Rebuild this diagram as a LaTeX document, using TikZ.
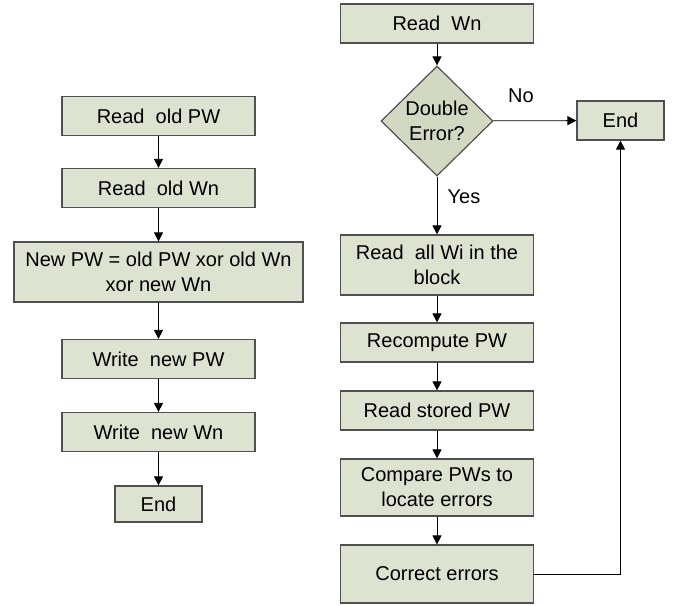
\documentclass[tikz,border=0pt]{standalone}
\usepackage{fontspec}
\setmainfont{Liberation Sans}
\usetikzlibrary{shapes.geometric,arrows.meta}
\definecolor{boxfill}{HTML}{DEE2D0}
\definecolor{diafill}{HTML}{D3D8C3}
\definecolor{boxline}{HTML}{505050}
\begin{document}
\begin{tikzpicture}[x=1pt,y=-1pt,
  box/.style={draw=boxline,line width=1.2pt,fill=boxfill,minimum width=193pt,minimum height=39pt,align=center,inner sep=2pt,font=\fontsize{20}{25}\selectfont},
  dia/.style={draw=boxline,line width=1.2pt,fill=diafill,diamond,minimum width=112pt,minimum height=110pt,align=center,inner sep=0pt,font=\fontsize{20}{25}\selectfont},
  arr/.style={draw=black,line width=0.8pt,-{Triangle[length=9pt,width=9pt]}},
  lbl/.style={font=\fontsize{20}{25}\selectfont}]
\useasboundingbox (0,0) rectangle (674,605);
% left column
\node[box] (a1) at (158.5,116) {Read\ \ old PW};
\node[box] (a2) at (158.5,188) {Read\ \ old Wn};
\node[box,minimum width=289pt,minimum height=60pt] (a3) at (158.5,272) {New PW = old PW xor old Wn\\xor new Wn};
\node[box] (a4) at (158.5,359) {Write\ \ new PW};
\node[box] (a5) at (158.5,432) {Write\ \ new Wn};
\node[box,minimum width=87pt,minimum height=36pt] (a6) at (158.5,504) {End};
\draw[arr] (a1) -- (a2);
\draw[arr] (a2) -- (a3);
\draw[arr] (a3) -- (a4);
\draw[arr] (a4) -- (a5);
\draw[arr] (a5) -- (a6);
% right column
\node[box] (b1) at (437,23.5) {Read\ \ Wn};
\node[dia] (d) at (437,121) {Double\\Error?};
\node[box,minimum width=87pt,minimum height=39pt] (e) at (620.5,120.5) {End};
\node[box,minimum height=60pt] (b2) at (437,265) {Read\ \ all Wi in the\\block};
\node[box] (b3) at (437,342.5) {Recompute PW};
\node[box] (b4) at (437,410.5) {Read stored PW};
\node[box,minimum height=57pt] (b5) at (437,487.5) {Compare PWs to\\locate errors};
\node[box,minimum height=58pt] (b6) at (437,574) {Correct errors};
\draw[arr] (b1) -- (d);
\draw[arr] (d) -- (e);
\draw[arr] (d) -- (b2);
\draw[arr] (b2) -- (b3);
\draw[arr] (b3) -- (b4);
\draw[arr] (b4) -- (b5);
\draw[arr] (b5) -- (b6);
\draw[arr] (b6.east) -| (e.south);
\node[lbl] (no) at (521,96) {No};
\node[lbl] (yes) at (464,197) {Yes};
\end{tikzpicture}
\end{document}
